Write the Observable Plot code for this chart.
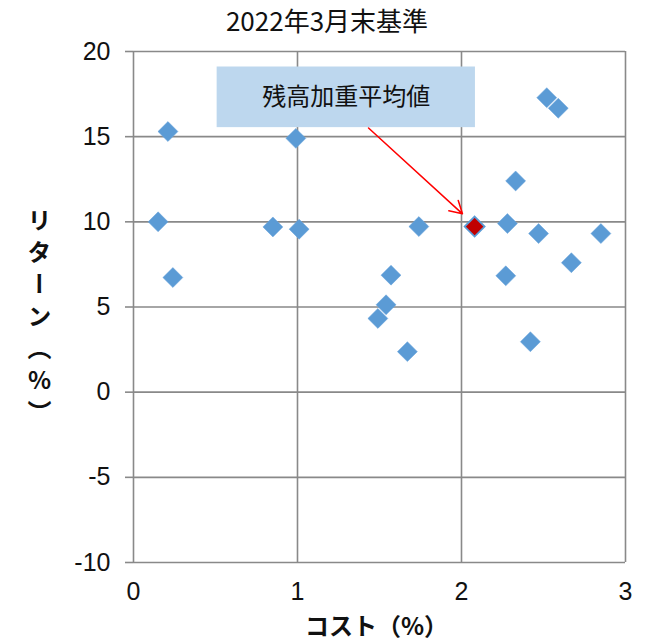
<!DOCTYPE html>
<html><head><meta charset="utf-8">
<script src="https://cdn.jsdelivr.net/npm/d3@7"></script>
<script src="https://cdn.jsdelivr.net/npm/@observablehq/plot@0.6"></script>
<style>
body{margin:0;background:#fff}
#wrap{width:650px}
#title{width:650px;height:37px;margin:0;padding:3px 0 0 4px;box-sizing:border-box;text-align:center;font-family:'Noto Sans CJK JP',sans-serif;font-size:26px;line-height:34px;color:#111;font-weight:normal;white-space:nowrap}
svg{display:block}
</style>
</head><body><div id="wrap"><div id="title"></div><div id="chart"></div></div>
<script>
const title = "2022年3月末基準";
const xLabel = "コスト（%）";
const yLabel = "リターン（%）";
const costs   = [0.15, 0.21, 0.24, 0.85, 0.99, 1.01, 1.49, 1.54, 1.57, 1.67, 1.74, 2.27, 2.28, 2.33, 2.42, 2.47, 2.52, 2.59, 2.67, 2.85];
const returns = [10.0, 15.3, 6.73, 9.7, 14.9, 9.57, 4.33, 5.13, 6.87, 2.38, 9.72, 6.83, 9.9, 12.4, 2.96, 9.31, 17.29, 16.67, 7.6, 9.31];
const avgCost = [2.08];
const avgReturn = [9.72];
const annText = ["残高加重平均値"];
const annBoxX = [0.51, 2.085];
const annBoxY = [15.53, 19.09];
const arrowFrom = [1.433, 15.51];
const arrowTo = [2.006, 10.47];
const xTicks = [0, 1, 2, 3];
const yTicks = [-10, -5, 0, 5, 10, 15, 20];

const pts = costs.map((c, i) => ({cost: c, ret: returns[i]}));
const avg = avgCost.map((c, i) => ({cost: c, ret: avgReturn[i]}));
const grid = "#898989";
const jp = "'Noto Sans CJK JP', sans-serif";
const fmt = d => String(d);

document.getElementById("title").textContent = title;

const chart = Plot.plot({
  width: 650,
  height: 607,
  marginLeft: 133,
  marginRight: 25,
  marginTop: 14,
  marginBottom: 82,
  style: {fontFamily: "'Liberation Sans', Arial, sans-serif", background: "#fff"},
  x: {domain: [0, 3]},
  y: {domain: [-10, 20]},
  marks: [
    Plot.gridX(xTicks, {stroke: grid, strokeOpacity: 1, strokeWidth: 1.6}),
    Plot.gridY(yTicks, {stroke: grid, strokeOpacity: 1, strokeWidth: 1.6}),
    Plot.axisY(yTicks, {tickSize: 8, tickPadding: 15, tickFormat: fmt, stroke: grid, strokeWidth: 1.6, fontSize: 25, fill: "#111", label: null}),
    Plot.axisX(xTicks, {tickSize: 0, tickPadding: 20, tickFormat: fmt, fontSize: 25, fill: "#111", label: null}),
    Plot.dot(pts, {x: "cost", y: "ret", symbol: "diamond2", r: 9, fill: "#5B9BD5", stroke: "#6aa5dc", strokeWidth: 0.5}),
    Plot.dot(avg, {x: "cost", y: "ret", symbol: "diamond2", r: 9, fill: "#C00000", stroke: "#5B9BD5", strokeWidth: 1.8}),
    Plot.rect([0], {x1: () => annBoxX[0], x2: () => annBoxX[1], y1: () => annBoxY[0], y2: () => annBoxY[1], fill: "#BDD7EE"}),
    Plot.text(annText, {x: () => (annBoxX[0] + annBoxX[1]) / 2, y: () => (annBoxY[0] + annBoxY[1]) / 2, text: d => d, fontSize: 24, fill: "#111", fontFamily: jp}),
    Plot.arrow([0], {x1: () => arrowFrom[0], y1: () => arrowFrom[1], x2: () => arrowTo[0], y2: () => arrowTo[1], stroke: "#FF0000", strokeWidth: 1.5, headLength: 14}),
    Plot.text([xLabel], {frameAnchor: "bottom", lineAnchor: "middle", textAnchor: "middle", dx: -3, dy: 65, text: d => d, fontSize: 24, fontWeight: "bold", fill: "#111", fontFamily: jp}),
    Plot.text([yLabel], {frameAnchor: "left", lineAnchor: "middle", textAnchor: "middle", dx: -94, dy: 5, text: d => d, fontSize: 24, fontWeight: "bold", fill: "#111", fontFamily: jp})
  ]
});

chart.querySelectorAll("text").forEach(t => {
  if (t.textContent === yLabel) {
    t.style.writingMode = "vertical-rl";
    t.style.textOrientation = "upright";
    t.style.letterSpacing = "8px";
    t.setAttribute("text-anchor", "middle");
    t.removeAttribute("dy");
  }
});
document.getElementById("chart").appendChild(chart);
</script>
</body></html>
